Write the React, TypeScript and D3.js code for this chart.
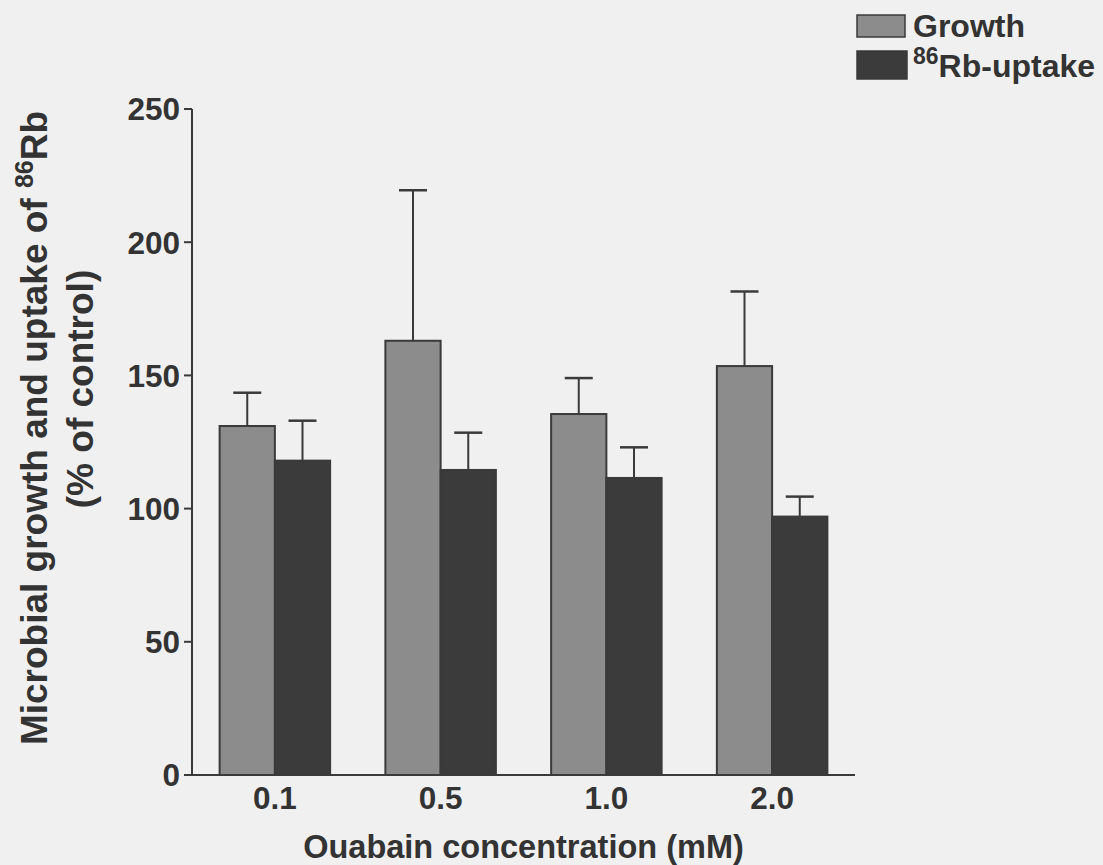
import React, { useEffect } from "react";
import * as d3 from "d3";

const categories = ["0.1", "0.5", "1.0", "2.0"];
const seriesKeys = ["growth", "rb"];
const growthValues = [131, 163, 135.5, 153.5];
const growthErrors = [12.5, 56.5, 13.5, 28];
const rbValues = [118, 114.5, 111.5, 97];
const rbErrors = [15, 14, 11.5, 7.5];
const yTickValues = [0, 50, 100, 150, 200, 250];

const W = 1103;
const H = 865;
const FONT = "'Liberation Sans', Arial, Helvetica, sans-serif";
const TEXT = "#333333";
const COLORS: Record<string, string> = { growth: "#8c8c8c", rb: "#3b3b3b" };

export default function App() {
  useEffect(() => {
    document.body.style.margin = "0";
  }, []);

  const x = d3
    .scaleBand<string>()
    .domain(categories)
    .range([192, 855])
    .paddingInner(1 / 3)
    .paddingOuter(1 / 6);
  const xs = d3.scaleBand<string>().domain(seriesKeys).range([0, x.bandwidth()]);
  const y = d3.scaleLinear().domain([0, 250]).range([775, 109]);

  const series = [
    { key: "growth", values: growthValues, errors: growthErrors },
    { key: "rb", values: rbValues, errors: rbErrors },
  ];

  const x0 = x.range()[0];
  const x1 = x.range()[1];

  return (
    <svg width={W} height={H} style={{ display: "block" }} fontFamily={FONT}>
      <rect x={0} y={0} width={W} height={H} fill="#f0f0f0" />
      {series.map((s) =>
        categories.map((c, i) => {
          const bx = (x(c) as number) + (xs(s.key) as number);
          const bw = xs.bandwidth();
          const top = y(s.values[i]);
          const errTop = y(s.values[i] + s.errors[i]);
          const cx = bx + bw / 2;
          return (
            <g key={s.key + c}>
              <line x1={cx} x2={cx} y1={top} y2={errTop} stroke="#3a3a3a" strokeWidth={2} />
              <line x1={cx - 14} x2={cx + 14} y1={errTop} y2={errTop} stroke="#3a3a3a" strokeWidth={2.5} />
              <rect
                x={bx}
                y={top}
                width={bw}
                height={y(0) - top}
                fill={COLORS[s.key]}
                stroke="#3a3a3a"
                strokeWidth={2}
              />
            </g>
          );
        })
      )}
      <line x1={x0} x2={x0} y1={y(250)} y2={y(0)} stroke="#3a3a3a" strokeWidth={2} />
      <line x1={x0} x2={x1} y1={y(0)} y2={y(0)} stroke="#3a3a3a" strokeWidth={2} />
      {yTickValues.map((t) => (
        <g key={t}>
          <line x1={x0 - 8} x2={x0} y1={y(t)} y2={y(t)} stroke="#3a3a3a" strokeWidth={2} />
          <text
            x={x0 - 12}
            y={y(t)}
            dy="0.36em"
            textAnchor="end"
            fontSize={31.5}
            fontWeight="bold"
            fill={TEXT}
          >
            {t}
          </text>
        </g>
      ))}
      {categories.map((c) => (
        <text
          key={c}
          x={(x(c) as number) + x.bandwidth() / 2}
          y={809}
          textAnchor="middle"
          fontSize={31.5}
          fontWeight="bold"
          fill={TEXT}
        >
          {c}
        </text>
      ))}
      <text
        x={(x0 + x1) / 2}
        y={858}
        textAnchor="middle"
        fontSize={32.5}
        fontWeight="bold"
        fill={TEXT}
      >
        Ouabain concentration (mM)
      </text>
      <g transform="translate(47,428) rotate(-90)">
        <text x={0} y={0} textAnchor="middle" fontSize={37} fontWeight="bold" fill={TEXT}>
          Microbial growth and uptake of{" "}
          <tspan fontSize={25} dy={-14}>86</tspan>
          <tspan dy={14}>Rb</tspan>
        </text>
      </g>
      <g transform="translate(93,389) rotate(-90)">
        <text x={0} y={0} textAnchor="middle" fontSize={37} fontWeight="bold" fill={TEXT}>
          (% of control)
        </text>
      </g>
      <rect x={857} y={15} width={48} height={22} fill={COLORS.growth} stroke="#3a3a3a" strokeWidth={1.5} />
      <text x={913} y={37} fontSize={32} fontWeight="bold" fill={TEXT}>
        Growth
      </text>
      <rect x={857} y={51} width={50} height={28} fill={COLORS.rb} stroke="#3a3a3a" strokeWidth={1.5} />
      <text x={913} y={77} fontSize={32} fontWeight="bold" fill={TEXT}>
        <tspan fontSize={23} dy={-13}>86</tspan>
        <tspan dy={13}>Rb-uptake</tspan>
      </text>
    </svg>
  );
}
